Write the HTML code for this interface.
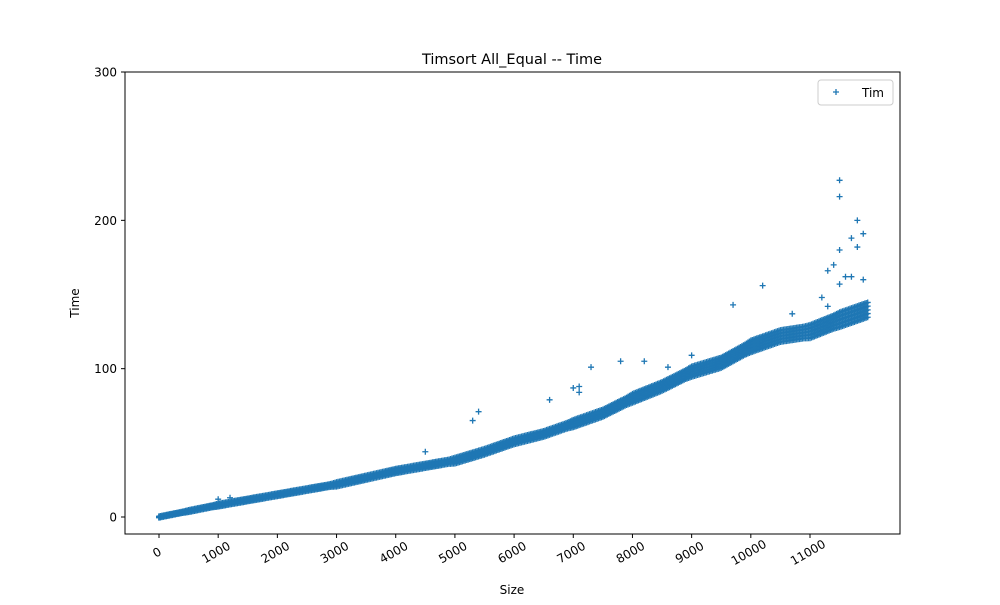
<!DOCTYPE html>
<html><head><meta charset="utf-8"><style>
body{margin:0;background:#fff;}
svg{font-family:"DejaVu Sans","Liberation Sans",sans-serif;}
</style></head><body>
<svg id="chart" width="1000" height="600" xmlns="http://www.w3.org/2000/svg">
<rect width="1000" height="600" fill="#fff"/>
<text x="512" y="64" font-size="14.5" text-anchor="middle">Timsort All_Equal -- Time</text>
<g id="marks"></g>
<rect x="125" y="72" width="775" height="462" fill="none" stroke="#000" stroke-width="1"/>
<g id="xticks"></g>
<g id="yticks"></g>
<text x="512" y="594" font-size="12" text-anchor="middle">Size</text>
<text x="79" y="303" font-size="12" text-anchor="middle" transform="rotate(-90 79 303)">Time</text>
<g>
<rect x="818" y="80" width="75" height="25" fill="#fff" stroke="#ccc" rx="3"/>
<path d="M833 92h6M836 89v6" stroke="#1f77b4" stroke-width="1.3"/>
<text x="862" y="97" font-size="12">Tim</text>
</g>
</svg>
<script>
const sizes=[];for(let i=0;i<120;i++)sizes.push(i*100);
const midTime=[0,0.8,1.6,2.4,3.2,4,4.8,5.6,6.4,7.2,
8,8.7,9.4,10.1,10.8,11.5,12.2,12.9,13.6,14.3,
15,15.7,16.4,17.1,17.8,18.5,19.2,19.9,20.6,21.3,
22,22.9,23.8,24.7,25.6,26.5,27.4,28.3,29.2,30.1,
31,31.7,32.4,33.1,33.8,34.5,35.2,35.9,36.6,37.3,
38,39.2,40.4,41.6,42.8,44,45.4,46.8,48.2,49.6,
51,52,53,54,55,56,57.4,58.8,60.2,61.6,
63,64.4,65.8,67.2,68.6,70,72,74,76,78,
80,81.6,83.2,84.8,86.4,88,90,92,94,96,
98,99.2,100.4,101.6,102.8,104,106.2,108.4,110.6,112.8,
115,116.4,117.8,119.2,120.6,122,122.6,123.2,123.8,124.4,
125,126.6,128.2,129.8,131.4,133,134.4,135.8,137.2,138.6];
const bandTime=[1,1,1,1,1,1.5,1.5,1.5,1.5,1.5,
2,2,2,2,2,2,2,2,2,2,2,2,2,2,2,2,2,2,2,2,
3,3,3,3,3,3,3,3,3,3,3,3,3,3,3,3,3,3,3,3,
4,4,4,4,4,4,4,4,4,4,4,4,4,4,4,4,4,4,4,4,
5,5,5,5,5,5,5,5,5,5,6,6,6,6,6,6,6,6,6,6,
7,7,7,7,7,7,7,7,7,7,8,8,8,8,8,8,8,8,8,8,
9,9,9,9,9,10,10,10,10,10];
const outX=[1000,1200,4500,5300,5400,6600,7000,7100,7100,7300,7800,8200,8600,9000,9700,10200,10700,11300,11400,11500,11500,11500,11700,11800,11800,11900,11600,11700,11900,11500,11300,11200];
const outY=[12,13,44,65,71,79,87,88,84,101,105,105,101,109,143,156,137,166,170,227,216,180,188,200,182,191,162,162,160,157,142,148];
const xTicks=[0,1000,2000,3000,4000,5000,6000,7000,8000,9000,10000,11000];
const yTicks=[0,100,200,300];
const NS='http://www.w3.org/2000/svg';
const xs=v=>159+v*(651/11000);
const ys=v=>517-v*1.4833;
const marks=document.getElementById('marks');
function plus(x,y){const p=document.createElementNS(NS,'path');
p.setAttribute('d',`M${xs(x)-3} ${ys(y)}h6M${xs(x)} ${ys(y)-3}v6`);
p.setAttribute('stroke','#1f77b4');p.setAttribute('stroke-width','1.3');


marks.appendChild(p);}
sizes.forEach((s,i)=>{const m0=midTime[i],b0=bandTime[i];
const m1=midTime[i+1]??m0+1.4,b1=bandTime[i+1]??b0;
for(let k=0;k<4;k++){const f=k/4,m=m0+(m1-m0)*f,b=b0+(b1-b0)*f;
for(let j=-2;j<=2;j++)plus(s+k*25,m+j*b/4);}});
outX.forEach((x,i)=>plus(x,outY[i]));
const xg=document.getElementById('xticks');
xTicks.forEach(t=>{const x=xs(t);
const l=document.createElementNS(NS,'line');l.setAttribute('x1',x);l.setAttribute('x2',x);l.setAttribute('y1',534);l.setAttribute('y2',538);l.setAttribute('stroke','#000');


xg.appendChild(l);
const tx=document.createElementNS(NS,'text');tx.textContent=t;tx.setAttribute('font-size','12');tx.setAttribute('text-anchor','middle');
tx.setAttribute('transform',`translate(${x},${556}) rotate(-30)`);


xg.appendChild(tx);});
const yg=document.getElementById('yticks');
yTicks.forEach(t=>{const y=ys(t);
const l=document.createElementNS(NS,'line');l.setAttribute('x1',121);l.setAttribute('x2',125);l.setAttribute('y1',y);l.setAttribute('y2',y);l.setAttribute('stroke','#000');


yg.appendChild(l);
const tx=document.createElementNS(NS,'text');tx.textContent=t;tx.setAttribute('font-size','12');tx.setAttribute('text-anchor','end');
tx.setAttribute('x',117);tx.setAttribute('y',y+4.5);


yg.appendChild(tx);});
</script>
</body></html>
